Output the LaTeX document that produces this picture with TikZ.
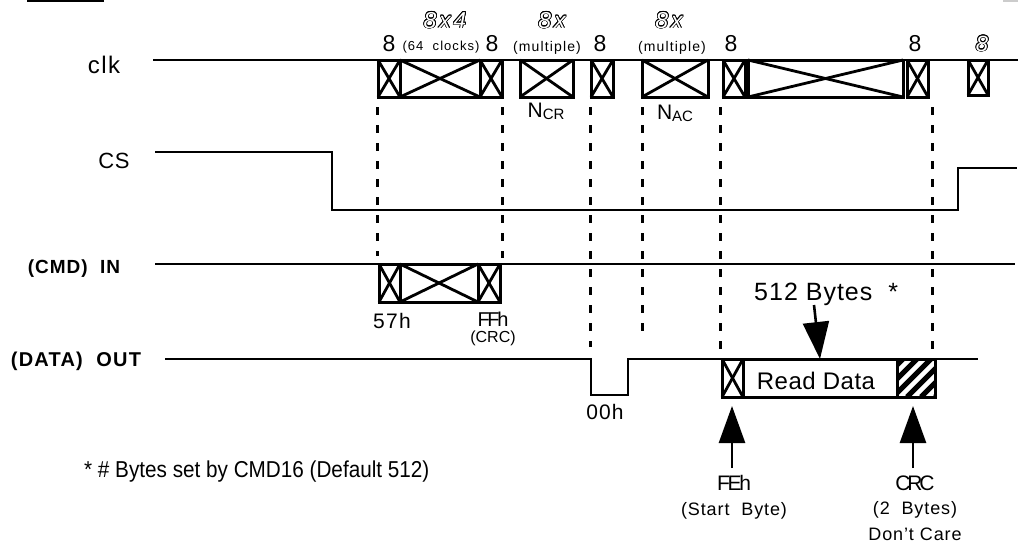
\documentclass[tikz,border=0pt]{standalone}
\usepackage{fontspec}
\setmainfont{Liberation Sans}
\usepackage[copies]{contour}
\contourlength{0.7pt}
\usetikzlibrary{arrows.meta}
\newcommand{\fs}[1]{\fontsize{#1}{#1}\selectfont}
\newcommand{\ls}[1]{\addfontfeature{LetterSpace=#1}}
\newcommand{\outl}[1]{{\color{white}\contour{black}{#1}}}
\begin{document}
\begin{tikzpicture}[x=1pt,y=-1pt,
  sig/.style={line width=2.8pt, line join=miter},
  bx/.style={draw, line width=3pt, inner sep=0pt, outer sep=0pt, anchor=north west},
  xbox/.style={bx, append after command={
     (\tikzlastnode.north west) edge[line width=2.8pt] (\tikzlastnode.south east)
     (\tikzlastnode.south west) edge[line width=2.8pt] (\tikzlastnode.north east)}},
  dsh/.style={line width=3pt, dash pattern=on 8pt off 10pt},
  txt/.style={inner sep=0pt, anchor=base},
  bigarrow/.style={line width=2.6pt, -{Triangle[length=37pt,width=26pt]}}]
\useasboundingbox (0,0) rectangle (1018,544);

% stray marks at top
\draw[line width=2.4pt] (27,1) -- (104,1);
\draw[line width=2pt, gray!40] (1003,1) -- (1018,1);

% signal labels
\node[txt, font=\fs{24}\ls{6}] (lclk) at (104,73) {clk};
\node[txt, font=\fs{22}\ls{3}] (lcs) at (114,168) {CS};
\node[txt, font=\bfseries\fs{19}\ls{5}] (lcmd) at (74,273) {(CMD)~~IN};
\node[txt, font=\bfseries\fs{20}\ls{6}] (ldat) at (76,366) {(DATA)~~OUT};

% signal lines
\draw[sig] (153,60) -- (1018,60);
\draw[sig] (155,152) -- (332,152) -- (332,210) -- (958,210) -- (958,168) -- (1017,168);
\draw[sig] (155,264) -- (1015,264);
\draw[sig] (165,359) -- (591,359) -- (591,395) -- (628,395) -- (628,359) -- (978,359);

% clk boxes
\node[xbox, minimum width=22pt, minimum height=37pt] (c1) at (378,60) {};
\node[xbox, minimum width=80pt, minimum height=37pt] (c2) at (400,60) {};
\node[xbox, minimum width=22pt, minimum height=37pt] (c3) at (480,60) {};
\node[xbox, minimum width=53pt, minimum height=37pt] (c4) at (520,60) {};
\node[xbox, minimum width=22pt, minimum height=37pt] (c5) at (591,60) {};
\node[xbox, minimum width=66pt, minimum height=37pt] (c6) at (642,60) {};
\node[xbox, minimum width=22pt, minimum height=37pt] (c7) at (723,60) {};
\node[xbox, minimum width=155pt, minimum height=37pt] (c8) at (748,60) {};
\node[xbox, minimum width=21pt, minimum height=37pt] (c9) at (907,60) {};
\node[xbox, minimum width=20pt, minimum height=35pt] (c10) at (968,60) {};

% CMD boxes
\node[xbox, minimum width=21pt, minimum height=38pt] (m1) at (379,264) {};
\node[xbox, minimum width=78pt, minimum height=38pt] (m2) at (400,264) {};
\node[xbox, minimum width=22pt, minimum height=38pt] (m3) at (478,264) {};

% DATA boxes
\node[xbox, minimum width=21pt, minimum height=38pt] (d1) at (722,359) {};
\node[bx, minimum width=154pt, minimum height=38pt] (d2) at (743,359) {};
\node[bx, minimum width=38pt, minimum height=38pt] (d3) at (897,359) {};
\begin{scope}
  \clip (d3.south west) rectangle (d3.north east);
  \foreach \s in {-32,-18,...,40}
    \draw[line width=5pt] ([xshift=\s pt]d3.south west) -- ++(45,-45);
\end{scope}
\draw[line width=3pt] (d3.south west) rectangle (d3.north east);
\node[txt, font=\fs{24}\ls{2}] (rd) at (816,389) {Read Data};

% dashed guide lines
\draw[dsh] (377,107) -- (377,256);
\draw[dsh] (502,107) -- (502,258);
\draw[dsh] (590,107) -- (590,347);
\draw[dsh] (642,107) -- (642,340);
\draw[dsh] (720,107) -- (720,352);
\draw[dsh] (932,107) -- (932,352);

% clock labels
\node[txt, font=\fs{23}] (e1) at (389,51) {8};
\node[txt, font=\fs{13}\ls{8}] (e2) at (441,50) {(64~~clocks)};
\node[txt, font=\fs{23}] (e3) at (492,51) {8};
\node[txt, font=\fs{14}\ls{8}] (e4) at (547,51) {(multiple)};
\node[txt, font=\fs{23}] (e5) at (600,51) {8};
\node[txt, font=\fs{14}\ls{8}] (e6) at (672,51) {(multiple)};
\node[txt, font=\fs{23}] (e7) at (731,51) {8};
\node[txt, font=\fs{23}] (e8) at (915,51) {8};
\node[txt, font=\itshape\fs{22}] (e9) at (982,51) {\outl{8}};
\node[txt, font=\itshape\fs{23}\ls{12}] (o1) at (445,28) {\outl{8x4}};
\node[txt, font=\itshape\fs{23}\ls{12}] (o2) at (552,28) {\outl{8x}};
\node[txt, font=\itshape\fs{23}\ls{12}] (o3) at (669,28) {\outl{8x}};
\node[txt] (ncr) at (546,117) {{\fs{21}N}{\fs{15}\raisebox{-2pt}{CR}}};
\node[txt] (nac) at (675,119) {{\fs{21}N}{\fs{15}\raisebox{-2pt}{AC}}};

% CMD labels
\node[txt, font=\fs{21}\ls{6}] (l57) at (392,328) {57h};
\node[txt, font=\fs{20}\ls{-12}] (lff) at (493,326) {FFh};
\node[txt, font=\fs{16}] (lcrc) at (493,342) {(CRC)};

% DATA labels
\node[txt, font=\fs{21}\ls{5}] (l00) at (605,419) {00h};
\node[txt, font=\fs{25}\ls{4}, anchor=base west] (l512) at (754,300) {512 Bytes~~*};
\coordinate (a512) at (814,305);
\draw[bigarrow] (a512) -- (d2.north);

\coordinate (afe) at (732,468);
\coordinate (tfe) at (732,406);
\draw[bigarrow] (afe) -- (tfe);
\coordinate (acr) at (913,468);
\coordinate (tcr) at (913,406);
\draw[bigarrow] (acr) -- (tcr);

\node[txt, font=\fs{21}\ls{-11}] (lfe) at (734,490) {FEh};
\node[txt, font=\fs{21}\ls{-15}] (lcrc2) at (915,490) {CRC};
\node[txt, font=\fs{18}\ls{5}] (lsb) at (734,515) {(Start~~Byte)};
\node[txt, font=\fs{18}\ls{5}] (l2b) at (915,514) {(2~~Bytes)};
\node[txt, font=\fs{18}\ls{5}] (ldc) at (915,540) {Don’t Care};

\node[txt, font=\fs{23}\addfontfeature{FakeStretch=0.9}, anchor=base west] (note) at (84,477) {* \# Bytes set by CMD16 (Default 512)};
\end{tikzpicture}
\end{document}
